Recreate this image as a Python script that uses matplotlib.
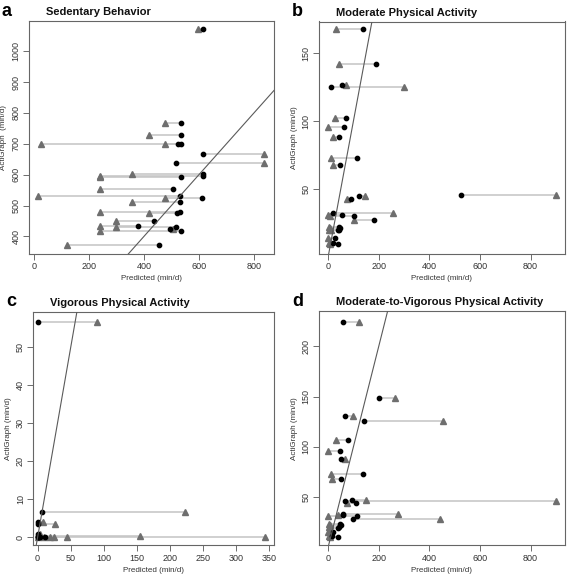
import matplotlib
matplotlib.use("Agg")
import matplotlib.pyplot as plt

plt.rcParams['font.family'] = ['Liberation Sans', 'DejaVu Sans']

# Panel a: Sedentary Behavior  (ActiGraph y, triangle predicted, circle predicted)
a_y    = [1071, 767, 727, 701, 700, 667, 637, 601, 595, 593, 553, 532, 523, 512, 478, 476, 450, 435, 430, 425, 416, 372]
a_tri  = [598, 478, 419, 24, 478, 836, 836, 358, 240, 240, 240, 14, 478, 358, 240, 418, 299, 240, 299, 505, 240, 121]
a_circ = [616, 535, 533, 535, 524, 613, 517, 614, 614, 535, 504, 532, 611, 530, 532, 522, 435, 378, 515, 494, 535, 455]

# Panel b: Moderate Physical Activity
b_y    = [167.7, 142, 126.7, 125, 102, 95.7, 88.3, 72.6, 68, 45.8, 45, 43, 32.6, 30.6, 30.4, 27.5, 22.3, 21.5, 20, 19.5, 14.3, 10.5, 9.5]
b_tri  = [30, 43, 72, 300, 26, 0, 21, 13, 18, 900, 146, 73, 258, 0, 8, 103, 2, 8, 5, 10, 0, 2, 6]
b_circ = [138, 190, 55, 12, 71, 61, 45, 113, 46, 524, 122, 90, 18, 55, 101, 182, 42, 47, 45, 38, 28, 20, 40]

# Panel c: Vigorous Physical Activity
c_y    = [56.7, 6.6, 4.0, 3.5, 0.8, 0.4, 0.1, 0.0, 0.0, 0.0, 0.0, 0.0]
c_tri  = [90, 223, 8.6, 26, 3, 155, 19, 343, 25, 44, 10, 0.5]
c_circ = [1, 6, 0, 1, 0, 1, 2, 0, 11, 0, 3, 0]

# Panel d: Moderate-to-Vigorous Physical Activity
d_y    = [224.6, 149, 130.7, 125.3, 106.4, 96.1, 88, 73.4, 68.4, 47.2, 46.5, 43.8, 33, 32, 31, 28.5, 23, 22, 20.5, 19.5, 15, 11, 10]
d_tri  = [121, 265, 98, 456, 33, 0, 65, 13, 17, 148, 900, 74, 277, 38, 0, 444, 3, 6, 4, 8, 0, 3, 6]
d_circ = [59, 200, 65, 142, 80, 48, 52, 138, 49, 95, 68, 110, 57, 59, 116, 98, 47, 50, 44, 40, 21, 14, 40]

panels = [
    dict(letter='a', title='Sedentary Behavior', y=a_y, tri=a_tri, circ=a_circ,
         xlim=(-18, 873), ylim=(343, 1098), xticks=[0, 200, 400, 600, 800],
         yticks=[400, 500, 600, 700, 800, 900, 1000], rect=(29, 21, 274, 254)),
    dict(letter='b', title='Moderate Physical Activity', y=b_y, tri=b_tri, circ=b_circ,
         xlim=(-36, 935), ylim=(2.2, 173.3), xticks=[0, 200, 400, 600, 800],
         yticks=[50, 100, 150], rect=(319, 21.5, 564.7, 254)),
    dict(letter='c', title='Vigorous Physical Activity', y=c_y, tri=c_tri, circ=c_circ,
         xlim=(-6.5, 357), ylim=(-2.1, 59.3), xticks=[0, 50, 100, 150, 200, 250, 300, 350],
         yticks=[0, 10, 20, 30, 40, 50], rect=(33.3, 312, 274, 545.3)),
    dict(letter='d', title='Moderate-to-Vigorous Physical Activity', y=d_y, tri=d_tri, circ=d_circ,
         xlim=(-36, 935), ylim=(1.9, 235), xticks=[0, 200, 400, 600, 800],
         yticks=[50, 100, 150, 200], rect=(319, 311.3, 564.7, 545.3)),
]

W, H = 567, 576
fig = plt.figure(figsize=(W / 100, H / 100), dpi=100)

for p in panels:
    l, t, r, b = p['rect']
    ax = fig.add_axes([l / W, 1 - b / H, (r - l) / W, (b - t) / H])
    for yy, xt, xc in zip(p['y'], p['tri'], p['circ']):
        ax.plot([xt, xc], [yy, yy], color='#c4c4c4', lw=1.1, zorder=1, solid_capstyle='butt')
    ax.plot(p['tri'], p['y'], linestyle='none', marker='^', ms=3.9, color='#6e6e6e', mec='#6e6e6e', zorder=3)
    ax.plot(p['circ'], p['y'], linestyle='none', marker='o', ms=3.1, color='black', zorder=4)
    ax.axline((0, 0), (1, 1), color='#5a5a5a', lw=0.8, zorder=5)
    ax.set_xlim(*p['xlim'])
    ax.set_ylim(*p['ylim'])
    ax.set_xticks(p['xticks'])
    ax.set_yticks(p['yticks'])
    ax.tick_params(axis='both', labelsize=6.5, length=4, width=0.6, color='#555555', labelcolor='#333333', pad=2)
    plt.setp(ax.get_yticklabels(), rotation=90, va='center')
    for s in ax.spines.values():
        s.set_color('#666666')
        s.set_linewidth(0.8)
    ax.set_xlabel('Predicted (min/d)', fontsize=5.8, color='#333333', labelpad=3)
    ax.set_ylabel('ActiGraph  (min/d)' if p['letter'] == 'a' else 'ActiGraph (min/d)',
                  fontsize=5.8, color='#333333', labelpad=3)
    fig.text((l + 17) / W, 1 - (t - 9) / H, p['title'], fontsize=8, fontweight='bold',
             ha='left', va='center', color='#111111')
    fig.text((l - 27) / W, 1 - (t - 10) / H, p['letter'], fontsize=13, fontweight='bold',
             ha='left', va='center', color='black')

fig.savefig('out.png', dpi=100)
